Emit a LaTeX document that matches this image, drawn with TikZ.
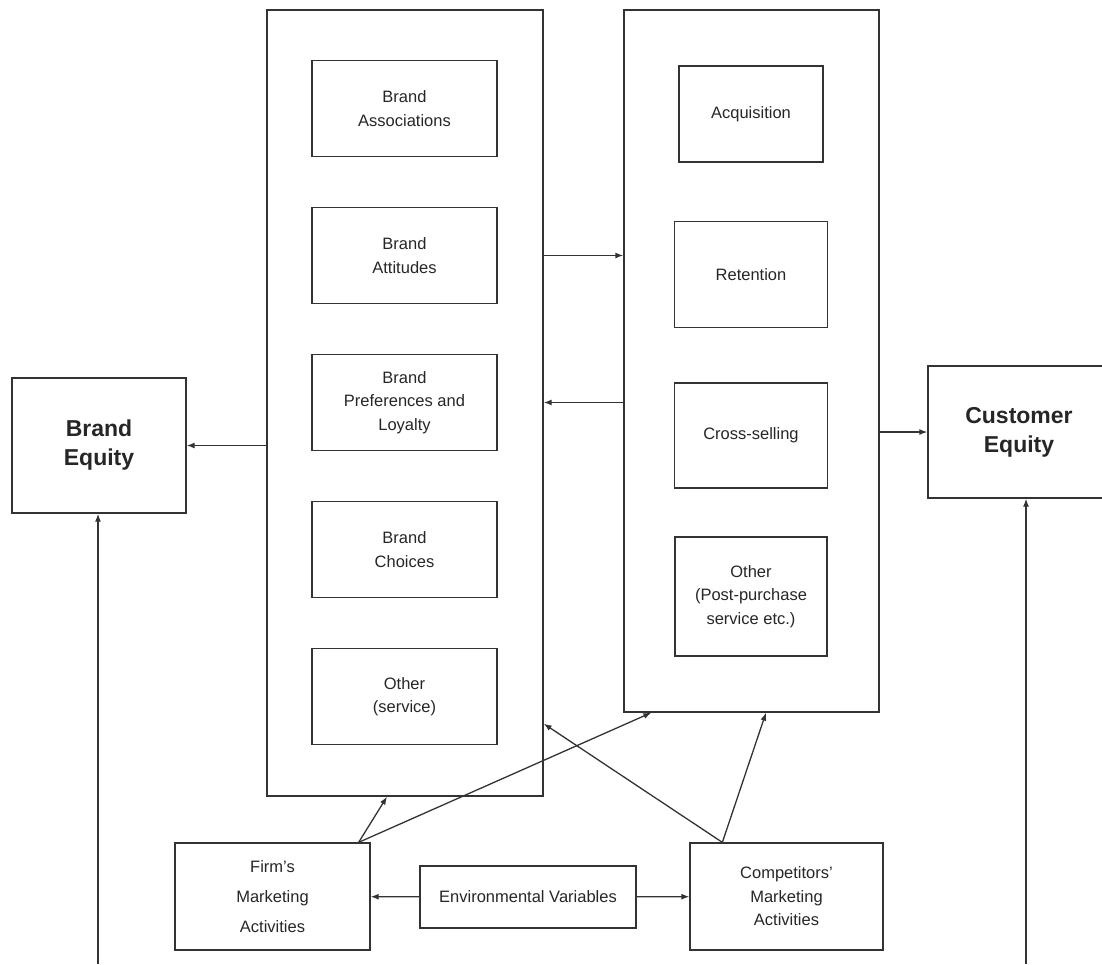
\documentclass[tikz,border=0pt]{standalone}
\usepackage{fontspec}
\setmainfont{Liberation Sans}
\usetikzlibrary{positioning}
\usetikzlibrary{arrows.meta}

\begin{document}
\begin{tikzpicture} [
    x=1pt, y=-1pt,                 % one unit per pixel, top-down
    node distance=147pt and 40pt,  % Global setup of box spacing
    ]
% -------------------------------------------------
\tikzset{
  base/.style={draw=black!80, line width=1.3pt, align=center, inner sep=0pt, text=black!85},
  col/.style={base},
  item/.style={base, on grid, font=\fontsize{16.5}{23.5}\selectfont},
  litem/.style={item, minimum width=185pt, minimum height=96pt},
  ritem/.style={item, minimum width=153pt, minimum height=106pt},
  equity/.style={base, font=\fontsize{23}{29}\selectfont\bfseries},
  activity/.style={base, minimum height=107pt, font=\fontsize{16.5}{23.5}\selectfont},
  line/.style={draw=black!80, line width=1.3pt, -{Latex[length=8pt,width=6pt]}},
}
    \useasboundingbox (0,0) rectangle (1102,964);

    % columns
    \node [col, minimum width=276pt, minimum height=786pt] (brandcol) at (405,403) {};
    \node [col, minimum width=255pt, minimum height=702pt] (custcol) at (751.5,361) {};

    % brand side
    \node [litem] (assoc) at (404.5,108.5) {Brand\\Associations};
    \node [litem, below=of assoc] (att) {Brand\\Attitudes};
    \node [litem, below=of att] (pref) {Brand\\Preferences and\\Loyalty};
    \node [litem, below=of pref] (choice) {Brand\\Choices};
    \node [litem, below=of choice] (bother) {Other\\(service)};

    % customer side
    \node [ritem, minimum width=144pt, minimum height=96pt] (acq) at (751,114) {Acquisition};
    \node [ritem, below=160.5pt of acq] (ret) {Retention};
    \node [ritem, minimum height=105pt, below=161pt of ret] (cross) {Cross-selling};
    \node [ritem, minimum width=152pt, minimum height=119pt, below=161pt of cross] (cother) {Other\\(Post-purchase\\service etc.)};

    % equities
    \node [equity, minimum width=174pt, minimum height=135pt] (brandeq) at (99,445.5) {Brand\\Equity};
    \node [equity, minimum width=182pt, minimum height=132pt] (custeq) at (1019,432) {Customer\\Equity};

    % activities
    \node [activity, minimum width=195pt, font=\fontsize{16.5}{30}\selectfont] (firm) at (272.5,896.5) {Firm's\\Marketing\\Activities};
    \node [activity, minimum width=216pt, minimum height=62pt] (env) at (528,897) {Environmental Variables};
    \node [activity, minimum width=193pt] (comp) at (786.5,896.5) {Competitors'\\Marketing\\Activities};

    \coordinate (befoot) at (98,964);
    \coordinate (cefoot) at (1026,964);

    \path [line] (brandcol.west |- brandeq) -- (brandeq.east);
    \path [line] (brandcol.east |- att) -- (custcol.west |- att);
    \path [line] (custcol.west |- pref) -- (brandcol.east |- pref);
    \path [line] (custcol.east |- custeq) -- (custeq.west);
    \path [line] (befoot) -- (befoot |- brandeq.south);
    \path [line] (cefoot) -- (cefoot |- custeq.south);

    \path [line] ([xshift=-12pt]firm.north east) -- ([xshift=-18pt]brandcol.south);
    \path [line] ([xshift=-12pt]firm.north east) -- ([xshift=28pt]custcol.south west);
    \path [line] ([xshift=33pt]comp.north west) -- ([yshift=73pt]brandcol.south east);
    \path [line] ([xshift=33pt]comp.north west) -- ([xshift=14.5pt]custcol.south);
    \path [line] (env) -- (firm);
    \path [line] (env) -- (comp);

\end{tikzpicture}
\end{document}
